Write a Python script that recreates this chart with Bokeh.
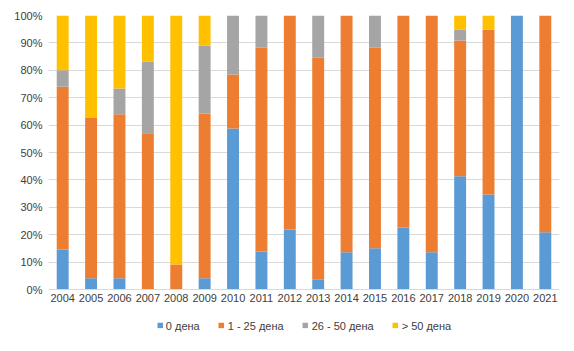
from bokeh.plotting import figure
from bokeh.layouts import column
from bokeh.models import ColumnDataSource, FactorRange, Range1d, NumeralTickFormatter, FixedTicker, Legend, LegendItem
from bokeh.embed import file_html
from bokeh.resources import INLINE

years = [str(y) for y in range(2004, 2022)]
zero_days = [14.6, 4.1, 4.1, 0, 0, 4.1, 58.8, 13.9, 21.9, 3.6, 13.6, 15.1, 22.6, 13.6, 41.3, 34.7, 100, 20.9]
d1_25 = [59.4, 58.5, 59.9, 57.0, 9.1, 60.1, 19.7, 74.3, 78.1, 81.0, 86.4, 73.1, 77.4, 86.4, 49.6, 60.1, 0, 79.1]
d26_50 = [6.0, 0, 9.4, 26.1, 0, 24.8, 21.5, 11.8, 0, 15.4, 0, 11.8, 0, 0, 3.9, 0, 0, 0]
d50p = [20.0, 37.4, 26.6, 16.9, 90.9, 11.0, 0, 0, 0, 0, 0, 0, 0, 0, 5.2, 5.2, 0, 0]

labels = ["0 дена", "1 - 25 дена", "26 - 50 дена", "> 50 дена"]
colors = ["#5B9BD5", "#ED7D31", "#A5A5A5", "#FFC000"]
keys = ["a", "b", "c", "d"]

src = ColumnDataSource(dict(
    x=years,
    a=[v / 100 for v in zero_days],
    b=[v / 100 for v in d1_25],
    c=[v / 100 for v in d26_50],
    d=[v / 100 for v in d50p],
))

p = figure(x_range=FactorRange(*years, range_padding=0), y_range=Range1d(0, 1),
           frame_width=511, frame_height=274, output_backend="svg", toolbar_location=None,
           min_border_left=48, min_border_right=15, min_border_top=15, min_border_bottom=0)

rs = p.vbar_stack(keys, x="x", width=0.42, color=colors, source=src, line_color=None)

p.outline_line_color = None
p.background_fill_color = "white"
p.border_fill_color = "white"

p.yaxis.ticker = FixedTicker(ticks=[i / 10 for i in range(11)])
p.yaxis.formatter = NumeralTickFormatter(format="0%")
p.yaxis.axis_line_color = None
p.yaxis.major_tick_line_color = None
p.yaxis.minor_tick_line_color = None
p.xaxis.major_tick_line_color = None
p.xaxis.axis_line_color = "#D9D9D9"
p.xgrid.grid_line_color = None
p.ygrid.grid_line_color = "#D9D9D9"
for ax in (p.xaxis, p.yaxis):
    ax.major_label_text_font = "Liberation Sans"
    ax.major_label_text_font_size = "11px"
    ax.major_label_text_color = "#404040"
    ax.major_tick_out = 0
    ax.minor_tick_out = 0
p.yaxis.major_label_standoff = 6
p.xaxis.major_label_standoff = 4

# legend strip below the chart (legend swatches only; their bars sit outside the visible range)
lg = figure(width=574, height=42, output_backend="svg", toolbar_location=None,
            x_range=Range1d(0, 1), y_range=Range1d(0, 1),
            min_border=0)
lg.axis.visible = False
lg.grid.grid_line_color = None
lg.outline_line_color = None
swatches = [lg.vbar(x=[-10], top=[0], width=0.4, color=c, line_color=None) for c in colors]

legend = Legend(items=[LegendItem(label=l, renderers=[r]) for l, r in zip(labels, swatches)],
                orientation="horizontal", location="center",
                glyph_width=7, glyph_height=7, label_height=13, label_text_font="Liberation Sans",
                label_text_font_size="11px", label_text_color="#404040",
                spacing=18, label_standoff=3, border_line_color=None,
                background_fill_alpha=0, padding=4, margin=0)
lg.add_layout(legend)

layout = column(p, lg, spacing=0)
open("out.html", "w").write(file_html(layout, INLINE))
